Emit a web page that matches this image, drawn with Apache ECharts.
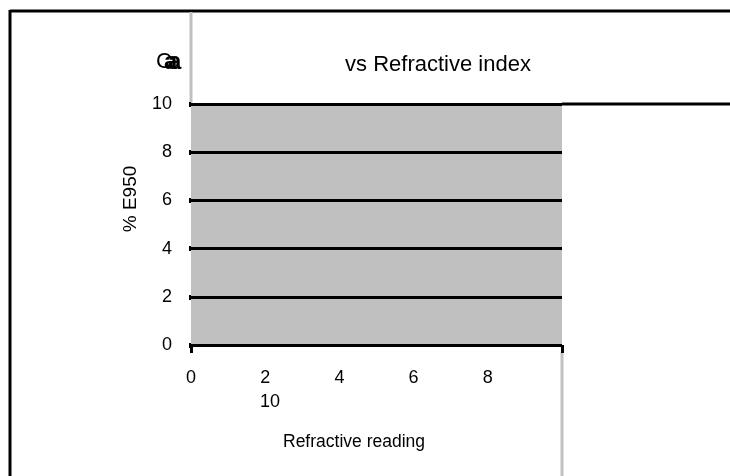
<!DOCTYPE html>
<html>
<head>
<meta charset="utf-8">
<script src="https://cdn.jsdelivr.net/npm/echarts@6/dist/echarts.min.js"></script>
<style>html,body{margin:0;padding:0;background:#fff}#c{width:730px;height:476px}</style>
</head>
<body>
<div id="c"></div>
<script>
// Data (the reference chart shows an empty plot)
var titleMain = 'vs Refractive index';
var titleStub = 'Ca';
var xTickValues = [0, 2, 4, 6, 8];
var xStrayLabel = '10';
var yTickValues = [0, 2, 4, 6, 8, 10];
var xName = 'Refractive reading';
var yName = '% E950';
var seriesData = [];

var FONT = '"Liberation Sans", Arial, sans-serif';
var chart = echarts.init(document.getElementById('c'), null, {renderer: 'canvas'});
var option = {
  animation: false,
  backgroundColor: '#ffffff',
  title: {
    text: titleMain,
    left: 433, top: 49, textAlign: 'center',
    textStyle: {fontFamily: FONT, fontSize: 22, fontWeight: 'normal', color: '#000'}
  },
  grid: {
    left: 191, right: 168, top: 104, bottom: 131,
    show: true, backgroundColor: '#c0c0c0', borderWidth: 0
  },
  xAxis: {
    type: 'value', min: 0, max: 10, interval: 2,
    axisLine: {show: false},
    axisTick: {show: true, inside: false, length: 8, lineStyle: {color: '#000', width: 3}, customValues: [0, 10]},
    splitLine: {show: false},
    axisLabel: {customValues: xTickValues, fontFamily: FONT, fontSize: 18, color: '#000', margin: 24}
  },
  yAxis: {
    type: 'value', min: 0, max: 10, interval: 2,
    axisLine: {show: false},
    axisTick: {show: true, length: 2, lineStyle: {color: '#000', width: 5}},
    splitLine: {show: true, lineStyle: {color: '#000', width: 3}},
    axisLabel: {customValues: yTickValues, fontFamily: FONT, fontSize: 18, color: '#000', margin: 19}
  },
  series: [{type: 'scatter', data: seriesData}],
  graphic: [
    {type: 'line', shape: {x1: 10, y1: 11, x2: 730, y2: 11}, style: {stroke: '#000', lineWidth: 3}},
    {type: 'line', shape: {x1: 10, y1: 10, x2: 10, y2: 476}, style: {stroke: '#000', lineWidth: 3}},
    {type: 'line', shape: {x1: 191, y1: 12, x2: 191, y2: 104}, style: {stroke: '#c0c0c0', lineWidth: 3}},
    {type: 'line', shape: {x1: 562, y1: 352, x2: 562, y2: 476}, style: {stroke: '#c0c0c0', lineWidth: 3}},
    {type: 'line', shape: {x1: 562, y1: 104, x2: 730, y2: 104}, style: {stroke: '#000', lineWidth: 3}},
    {type: 'text', x: 156, y: 51, style: {text: titleStub.charAt(0), font: '22px ' + FONT, fill: '#000'}},
    {type: 'text', x: 164, y: 50, style: {text: titleStub.charAt(1), font: 'bold 24px ' + FONT, fill: '#000'}},
    {type: 'text', x: 168, y: 50, style: {text: titleStub.charAt(1), font: 'bold 24px ' + FONT, fill: '#000'}},
    {type: 'text', x: 270, y: 402, style: {text: xStrayLabel, font: '18px ' + FONT, fill: '#000', align: 'center', verticalAlign: 'middle'}},
    {type: 'text', x: 354, y: 442, style: {text: xName, font: '17.5px ' + FONT, fill: '#000', align: 'center', verticalAlign: 'middle'}},
    {type: 'text', x: 131, y: 199, rotation: Math.PI / 2, style: {text: yName, font: '19px ' + FONT, fill: '#000', align: 'center', verticalAlign: 'middle'}}
  ]
};
chart.setOption(option);
</script>
</body>
</html>
